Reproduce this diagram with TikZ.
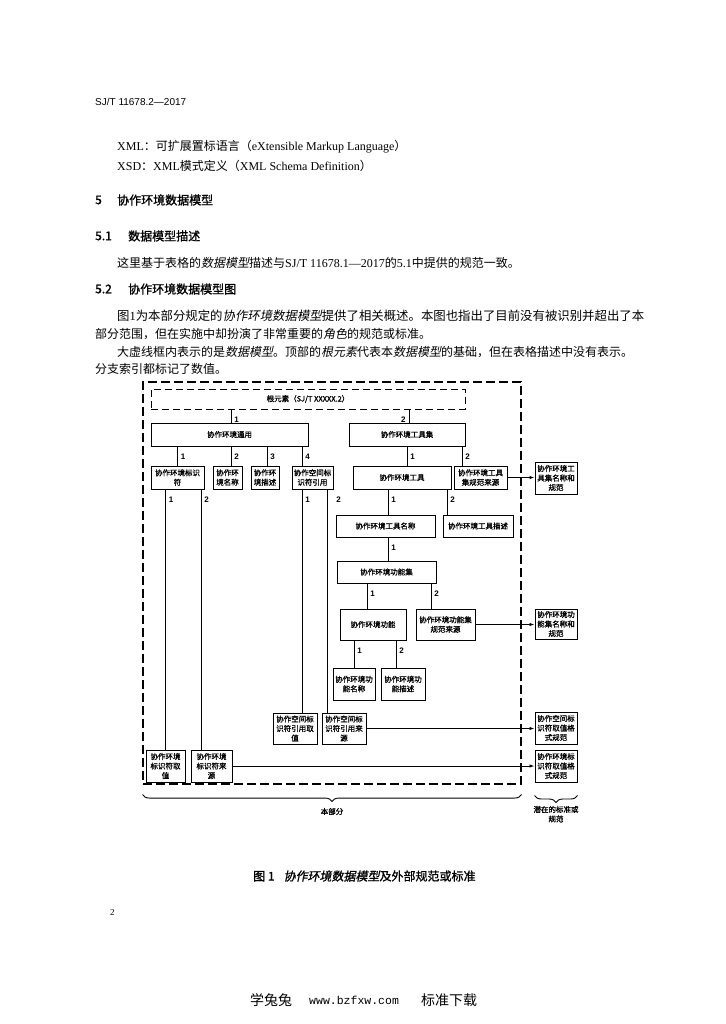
\documentclass[tikz,border=0pt]{standalone}
\usepackage{fontspec}
\setmainfont{Liberation Serif}
\newfontfamily\zhfont{Noto Sans CJK SC}
\newfontfamily\zhit[FakeSlant=0.2]{Noto Sans CJK SC}
\newfontfamily\zhbold[FakeBold=1.2]{Noto Sans CJK SC}
\newfontfamily\zhboldit[FakeBold=1.2,FakeSlant=0.2]{Noto Sans CJK SC}
\newfontfamily\numfont{Liberation Sans}
\newfontfamily\webfont{Liberation Mono}
\usetikzlibrary{arrows.meta,decorations.pathreplacing}
\newcommand{\zh}[1]{{\zhfont #1}}
\newcommand{\zhi}[1]{{\zhit #1}}

\tikzset{
  box/.style={draw, line width=1pt, align=center, inner sep=1pt,
    font=\zhbold\fontsize{7.5}{9.5}\selectfont},
  rootbox/.style={box, dash pattern=on 7pt off 4pt},
  partframe/.style={draw, dash pattern=on 9pt off 4pt, line width=1.1pt},
  link/.style={line width=0.9pt},
  arr/.style={line width=0.9pt, -{Latex[length=5pt,width=3.5pt]}},
  idx/.style={anchor=west, xshift=2pt, yshift=-10pt, inner sep=1pt,
    font=\numfont\bfseries\fontsize{8}{8}\selectfont},
  idxl/.style={anchor=east, xshift=-2pt, yshift=-10pt, inner sep=1pt,
    font=\numfont\bfseries\fontsize{8}{8}\selectfont},
  txt/.style={anchor=west, inner sep=0pt, font=\fontsize{12}{14}\selectfont},
  head/.style={txt, font=\zhbold\fontsize{12}{14}\selectfont},
  small/.style={align=center, inner sep=1pt, font=\zhbold\fontsize{7.5}{9.5}\selectfont},
  brc/.style={decorate, decoration={brace, mirror, amplitude=7pt}, line width=0.9pt}
}

\begin{document}
\begin{tikzpicture}[x=1pt,y=-1pt]
  \path[fill=white, use as bounding box] (0,0) rectangle (725,1024);
  % page text
  \node[txt, font=\numfont\fontsize{10}{11}\selectfont] (hdr) at (95,102) {SJ/T 11678.2—2017};
  \node[txt] (xml) at (117,147) {XML\zh{：可扩展置标语言（}eXtensible Markup Language\zh{）}};
  \node[txt] (xsd) at (117,166) {XSD\zh{：}XML\zh{模式定义（}XML Schema Definition\zh{）}};
  \node[head] (s5no) at (95,200) {5};
  \node[head] (s5) at (117,200) {协作环境数据模型};
  \node[head] (s51no) at (95,236) {5.1};
  \node[head] (s51) at (128,236) {数据模型描述};
  \node[txt] (p51) at (117,263) {\zh{这里基于表格的}\zhi{数据模型}\zh{描述与}SJ/T 11678.1—2017\zh{的}5.1\zh{中提供的规范一致。}};
  \node[head] (s52no) at (95,289) {5.2};
  \node[head] (s52) at (128,289) {协作环境数据模型图};
  \node[txt, font=\fontsize{12.4}{14}\selectfont] (p1a) at (117,316) {\zh{图}1\zh{为本部分规定的}\zhi{协作环境数据模型}\zh{提供了相关概述。本图也指出了目前没有被识别并超出了本}};
  \node[txt] (p1b) at (95,334) {\zh{部分范围，但在实施中却扮演了非常重要的}\zhi{角色}\zh{的规范或标准。}};
  \node[txt] (p2a) at (117,352) {\zh{大虚线框内表示的是}\zhi{数据模型}\zh{。顶部的}\zhi{根元素}\zh{代表本}\zhi{数据模型}\zh{的基础，但在表格描述中没有表示。}};
  \node[txt] (p2b) at (95,369) {\zh{分支索引都标记了数值。}};

  % this part
  \node[partframe, minimum width=378pt, minimum height=402pt] (part) at (332,583) {};
  \node[rootbox, minimum width=314pt, minimum height=20pt] (root) at (308,399) {根元素（SJ/T XXXXX.2）};
  \node[box, minimum width=157pt, minimum height=23pt] (general) at (229.5,434.5) {协作环境通用};
  \node[box, minimum width=116pt, minimum height=23pt] (toolset) at (407,434.5) {协作环境工具集};
  % under general
  \node[box, minimum width=53pt, minimum height=23pt] (ident) at (177.5,477.5) {协作环境标识\\符};
  \node[box, minimum width=29pt, minimum height=23pt] (gname) at (227.5,477.5) {协作环\\境名称};
  \node[box, minimum width=28pt, minimum height=23pt] (gdesc) at (265,477.5) {协作环\\境描述};
  \node[box, minimum width=41pt, minimum height=23pt] (sref) at (312.5,477.5) {协作空间标\\识符引用};
  % under toolset
  \node[box, minimum width=98pt, minimum height=23pt] (tool) at (402,477.5) {协作环境工具};
  \node[box, minimum width=53pt, minimum height=23pt] (tsrc) at (480.5,477.5) {协作环境工具\\集规范来源};
  \node[box, minimum width=99pt, minimum height=22pt] (tname) at (385.5,526) {协作环境工具名称};
  \node[box, minimum width=70pt, minimum height=22pt] (tdesc) at (478,526) {协作环境工具描述};
  \node[box, minimum width=99pt, minimum height=22pt] (fset) at (386.5,572) {协作环境功能集};
  \node[box, minimum width=66pt, minimum height=31pt] (func) at (373,624.5) {协作环境功能};
  \node[box, minimum width=59pt, minimum height=31pt] (fsrc) at (445.5,624.5) {协作环境功能集\\规范来源};
  \node[box, minimum width=42pt, minimum height=32pt] (fname) at (354,684) {协作环境功\\能名称};
  \node[box, minimum width=44pt, minimum height=32pt] (fdesc) at (403,684) {协作环境功\\能描述};
  % leaves at the bottom
  \node[box, minimum width=44pt, minimum height=31pt] (srefval) at (295,728.5) {协作空间标\\识符引用取\\值};
  \node[box, minimum width=44pt, minimum height=31pt] (srefsrc) at (344,728.5) {协作空间标\\识符引用来\\源};
  \node[box, minimum width=39pt, minimum height=32pt] (idval) at (165.5,766) {协作环境\\标识符取\\值};
  \node[box, minimum width=41pt, minimum height=32pt] (idsrc) at (211.5,766) {协作环境\\标识符来\\源};
  % outside standards
  \node[box, minimum width=42pt, minimum height=32pt] (ext1) at (556,478) {协作环境工\\具集名称和\\规范};
  \node[box, minimum width=42pt, minimum height=30pt] (ext2) at (556,624) {协作环境功\\能集名称和\\规范};
  \node[box, minimum width=42pt, minimum height=32pt] (ext3) at (556,728) {协作空间标\\识符取值格\\式规范};
  \node[box, minimum width=42pt, minimum height=32pt] (ext4) at (556,766) {协作环境标\\识符取值格\\式规范};

  % branches with their index
  \draw[link] ([xshift=1.5pt]general.north |- root.south) node[idx]{1} -- ([xshift=1.5pt]general.north);
  \draw[link] ([xshift=2pt]toolset.north |- root.south) node[idxl]{2} -- ([xshift=2pt]toolset.north);
  \draw[link] (ident.north |- general.south) node[idx]{1} -- (ident.north);
  \draw[link] ([xshift=3.5pt]gname.north |- general.south) node[idx]{2} -- ([xshift=3.5pt]gname.north);
  \draw[link] ([xshift=2pt]gdesc.north |- general.south) node[idx]{3} -- ([xshift=2pt]gdesc.north);
  \draw[link] ([xshift=-10.5pt]sref.north |- general.south) node[idx]{4} -- ([xshift=-10.5pt]sref.north);
  \draw[link] ([xshift=5pt]tool.north |- toolset.south) node[idx]{1} -- ([xshift=5pt]tool.north);
  \draw[link] ([xshift=-18.5pt]tsrc.north |- toolset.south) node[idx]{2} -- ([xshift=-18.5pt]tsrc.north);
  \draw[link] ([xshift=2.5pt]tname.north |- tool.south) node[idx]{1} -- ([xshift=2.5pt]tname.north);
  \draw[link] ([xshift=-31pt]tdesc.north |- tool.south) node[idx]{2} -- ([xshift=-31pt]tdesc.north);
  \draw[link] ([xshift=1.5pt]fset.north |- tname.south) node[idx]{1} -- ([xshift=1.5pt]fset.north);
  \draw[link] ([xshift=-6pt]func.north |- fset.south) node[idx]{1} -- ([xshift=-6pt]func.north);
  \draw[link] ([xshift=-14.5pt]fsrc.north |- fset.south) node[idx]{2} -- ([xshift=-14.5pt]fsrc.north);
  \draw[link] (fname.north |- func.south) node[idx]{1} -- (fname.north);
  \draw[link] ([xshift=-7pt]fdesc.north |- func.south) node[idx]{2} -- ([xshift=-7pt]fdesc.north);
  \draw[link] (idval.north |- ident.south) node[idx]{1} -- (idval.north);
  \draw[link] ([xshift=-10.5pt]idsrc.north |- ident.south) node[idx]{2} -- ([xshift=-10.5pt]idsrc.north);
  \draw[link] ([xshift=7pt]srefval.north |- sref.south) node[idx]{1} -- ([xshift=7pt]srefval.north);
  \draw[link] ([xshift=-17pt]srefsrc.north |- sref.south) node[idx, xshift=6pt]{2} -- ([xshift=-17pt]srefsrc.north);

  % references to outside standards
  \draw[arr] (tsrc.east) -- (tsrc.east -| ext1.west);
  \draw[arr] (fsrc.east) -- (fsrc.east -| ext2.west);
  \draw[arr] (srefsrc.east) -- (srefsrc.east -| ext3.west);
  \draw[arr] (idsrc.east) -- (idsrc.east -| ext4.west);

  % braces
  \draw[brc] ([yshift=-10pt]part.south west) -- ([yshift=-10pt]part.south east)
    node[small, midway, below=12pt] (partlbl) {本部分};
  \draw[brc] ([yshift=-13pt]ext4.south west) -- ([yshift=-13pt]ext4.south east)
    node[small, midway, below=9pt] (extlbl) {潜在的标准或\\规范};

  % caption, page number, footer
  \node[head] (cap) at (253,876) {图 1\hspace{9pt}{\zhboldit 协作环境数据模型}及外部规范或标准};
  \node[txt, font=\fontsize{9}{11}\selectfont] (pgno) at (110,913) {2};
  \node[txt, font=\zhfont\fontsize{14}{16}\selectfont] (wm1) at (250,1000) {学兔兔};
  \node[txt, font=\webfont\fontsize{11.5}{14}\selectfont] (wm2) at (309,1000) {www.bzfxw.com};
  \node[txt, font=\zhfont\fontsize{14}{16}\selectfont] (wm3) at (421,1000) {标准下载};
\end{tikzpicture}
\end{document}
